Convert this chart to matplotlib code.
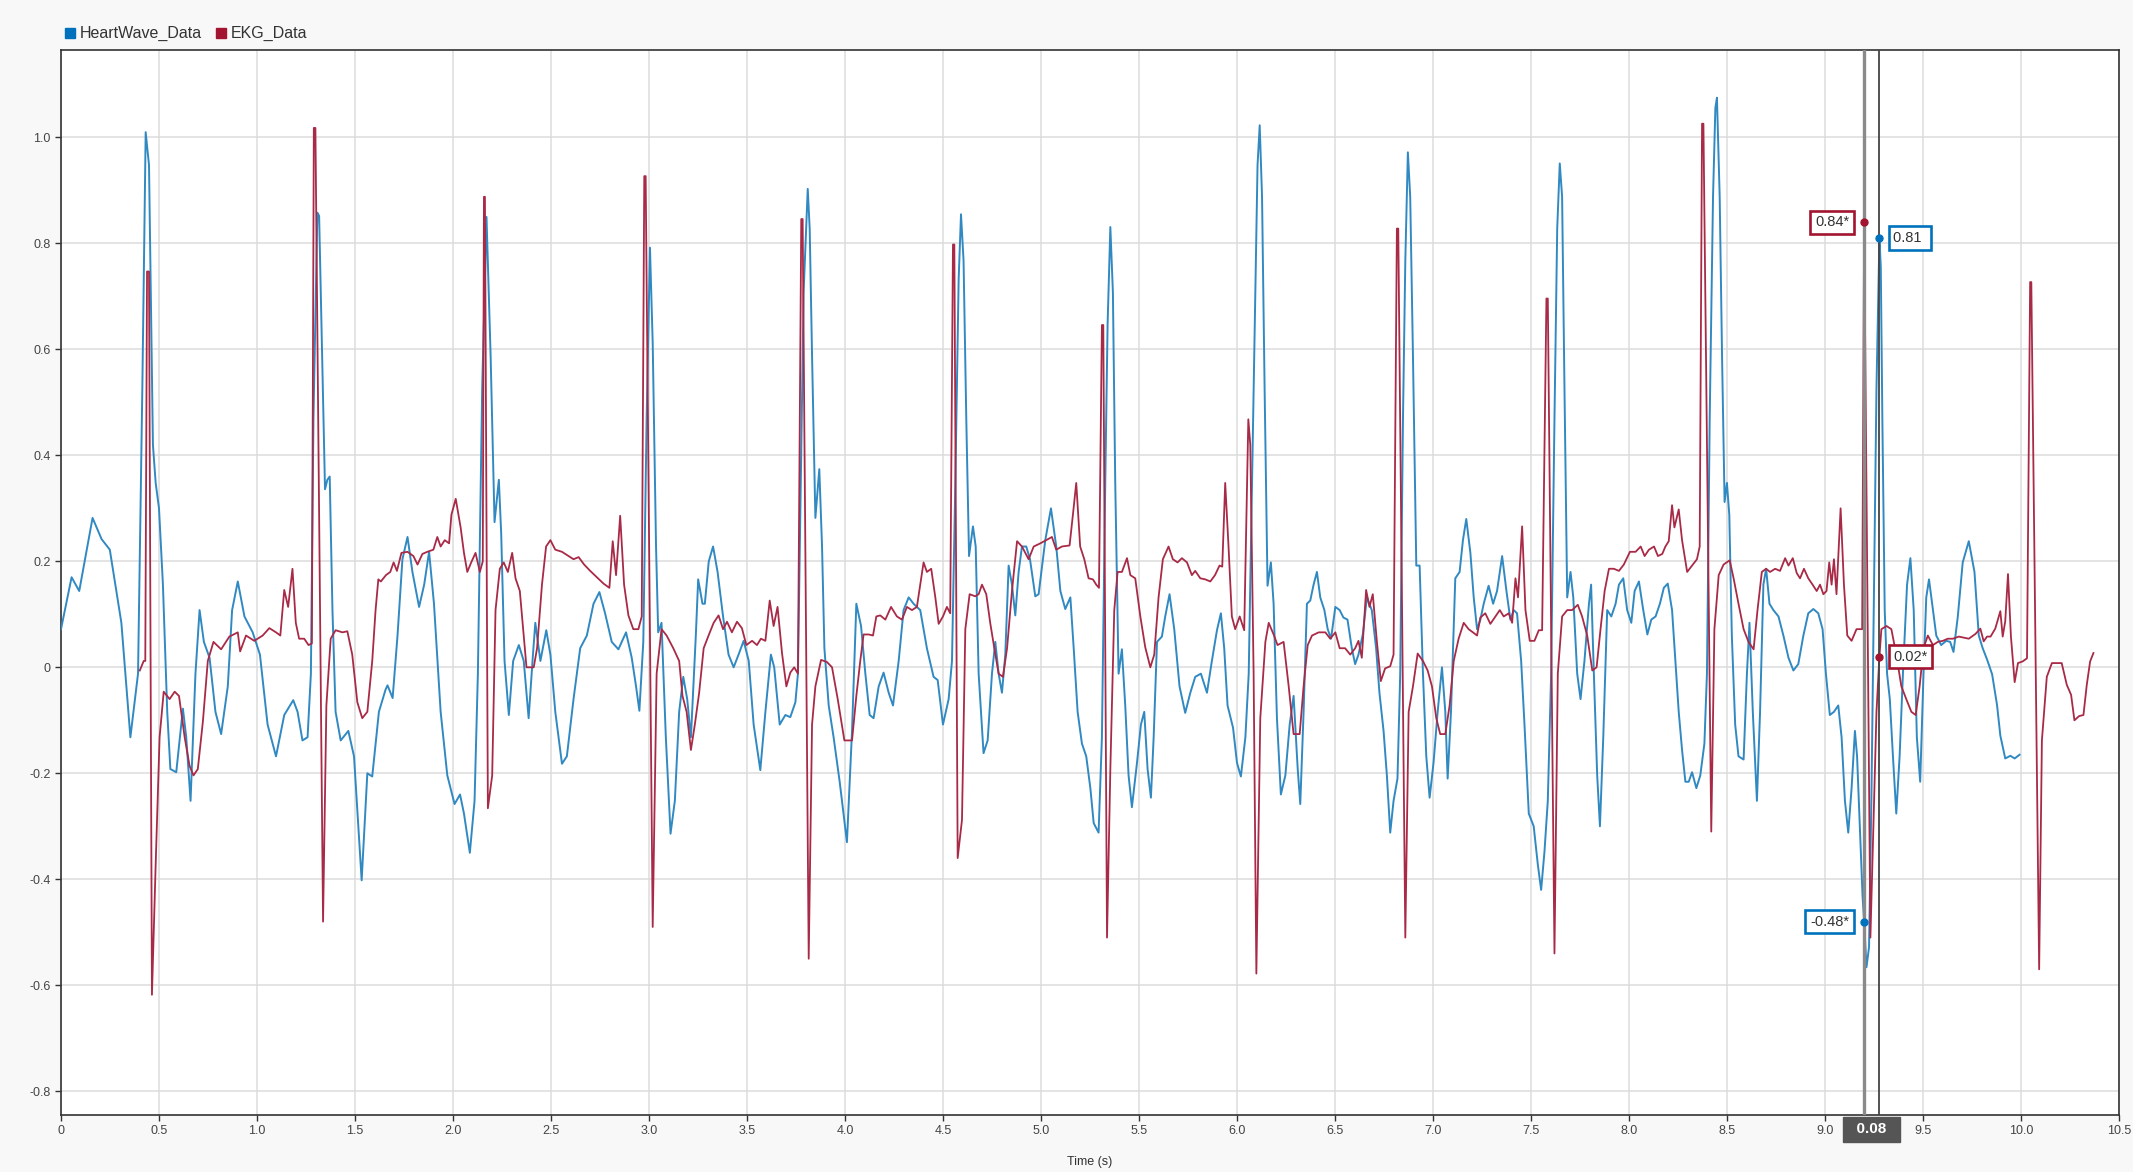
#!/usr/bin/env python3
import numpy as np
import matplotlib
matplotlib.use("Agg")
import matplotlib.pyplot as plt
from matplotlib.lines import Line2D
from matplotlib.transforms import blended_transform_factory

plt.rcParams['font.family'] = ['Liberation Sans', 'DejaVu Sans']

# (time s, value)
heartwave = [
    (0.0,0.072),(0.054,0.17),(0.093,0.144),(0.161,0.282),(0.207,0.242),(0.249,0.222),(0.308,0.084),
    (0.354,-0.132),(0.393,-0.012),(0.415,0.528),(0.432,1.01),(0.449,0.948),(0.469,0.42),(0.483,0.348),
    (0.5,0.30),(0.52,0.156),(0.542,-0.084),(0.558,-0.192),(0.588,-0.198),(0.622,-0.078),(0.639,-0.132),
    (0.661,-0.252),(0.686,-0.012),(0.707,0.108),(0.729,0.048),(0.758,0.018),(0.788,-0.084),(0.817,-0.126),
    (0.851,-0.036),(0.873,0.108),(0.902,0.162),(0.936,0.096),(0.978,0.066),(1.015,0.024),(1.054,-0.108),
    (1.097,-0.168),(1.139,-0.09),(1.185,-0.062),(1.207,-0.084),(1.232,-0.138),(1.258,-0.132),(1.275,-0.012),
    (1.288,0.468),(1.308,0.858),(1.317,0.852),(1.334,0.564),(1.347,0.336),(1.359,0.354),(1.371,0.36),
    (1.385,0.108),(1.401,-0.084),(1.427,-0.138),(1.466,-0.12),(1.495,-0.168),(1.534,-0.402),(1.563,-0.2),
    (1.588,-0.206),(1.622,-0.084),(1.656,-0.042),(1.666,-0.034),(1.692,-0.058),(1.717,0.06),(1.742,0.204),
    (1.768,0.246),(1.793,0.18),(1.827,0.114),(1.853,0.156),(1.878,0.218),(1.903,0.12),(1.937,-0.084),
    (1.971,-0.204),(2.008,-0.258),(2.036,-0.24),(2.056,-0.276),(2.086,-0.35),(2.11,-0.252),(2.127,-0.012),
    (2.149,0.528),(2.171,0.85),(2.192,0.588),(2.212,0.274),(2.234,0.354),(2.246,0.252),(2.263,0.012),
    (2.285,-0.09),(2.307,0.012),(2.336,0.042),(2.361,0.012),(2.386,-0.096),(2.408,0.024),(2.42,0.084),
    (2.446,0.012),(2.476,0.07),(2.497,0.024),(2.522,-0.084),(2.556,-0.182),(2.581,-0.168),(2.615,-0.06),
    (2.649,0.036),(2.683,0.06),(2.717,0.12),(2.747,0.142),(2.776,0.102),(2.81,0.048),(2.844,0.034),
    (2.883,0.066),(2.912,0.018),(2.934,-0.036),(2.951,-0.082),(2.971,0.048),(2.988,0.468),(3.005,0.792),
    (3.019,0.612),(3.036,0.228),(3.047,0.066),(3.064,0.084),(3.086,-0.132),(3.11,-0.314),(3.132,-0.252),
    (3.154,-0.084),(3.175,-0.018),(3.195,-0.06),(3.214,-0.132),(3.239,0.06),(3.251,0.166),(3.273,0.12),
    (3.285,0.12),(3.305,0.2),(3.327,0.228),(3.35,0.18),(3.378,0.096),(3.406,0.024),(3.432,0.0),
    (3.457,0.024),(3.483,0.05),(3.509,0.012),(3.534,-0.108),(3.568,-0.194),(3.594,-0.084),(3.622,0.024),
    (3.639,0.0),(3.667,-0.108),(3.696,-0.09),(3.721,-0.094),(3.747,-0.066),(3.76,-0.012),(3.772,0.288),
    (3.789,0.708),(3.81,0.903),(3.82,0.828),(3.832,0.588),(3.849,0.282),(3.869,0.374),(3.883,0.228),
    (3.895,0.036),(3.917,-0.072),(3.942,-0.132),(3.973,-0.216),(4.01,-0.33),(4.036,-0.12),(4.058,0.12),
    (4.082,0.078),(4.104,-0.012),(4.126,-0.09),(4.146,-0.096),(4.172,-0.036),(4.197,-0.01),(4.223,-0.048),
    (4.245,-0.072),(4.274,0.012),(4.299,0.108),(4.325,0.132),(4.35,0.12),(4.384,0.108),(4.418,0.036),
    (4.452,-0.018),(4.473,-0.024),(4.5,-0.108),(4.529,-0.06),(4.546,0.012),(4.563,0.348),(4.58,0.732),
    (4.592,0.855),(4.605,0.768),(4.619,0.468),(4.633,0.21),(4.653,0.266),(4.667,0.228),(4.682,-0.012),
    (4.707,-0.162),(4.728,-0.138),(4.75,-0.012),(4.767,0.048),(4.784,-0.012),(4.801,-0.048),(4.818,0.024),
    (4.835,0.192),(4.852,0.156),(4.869,0.098),(4.886,0.18),(4.903,0.228),(4.925,0.228),(4.944,0.204),
    (4.971,0.134),(4.988,0.138),(5.022,0.24),(5.051,0.3),(5.078,0.228),(5.099,0.144),(5.124,0.11),
    (5.15,0.132),(5.167,0.036),(5.187,-0.084),(5.209,-0.144),(5.231,-0.168),(5.252,-0.228),(5.269,-0.294),
    (5.294,-0.312),(5.311,-0.132),(5.328,0.348),(5.34,0.648),(5.354,0.831),(5.367,0.708),(5.379,0.348),
    (5.396,-0.012),(5.413,0.034),(5.43,-0.072),(5.447,-0.204),(5.464,-0.264),(5.49,-0.18),(5.51,-0.108),
    (5.527,-0.084),(5.544,-0.192),(5.561,-0.246),(5.575,-0.132),(5.592,0.048),(5.617,0.058),(5.634,0.096),
    (5.656,0.138),(5.68,0.072),(5.707,-0.036),(5.736,-0.086),(5.762,-0.048),(5.787,-0.018),(5.816,-0.012),
    (5.847,-0.048),(5.872,0.012),(5.898,0.07),(5.918,0.102),(5.935,0.036),(5.952,-0.072),(5.98,-0.114),
    (6.0,-0.18),(6.02,-0.206),(6.043,-0.132),(6.06,-0.012),(6.077,0.348),(6.094,0.708),(6.105,0.948),
    (6.116,1.023),(6.128,0.888),(6.141,0.528),(6.156,0.154),(6.173,0.198),(6.187,0.12),(6.204,-0.096),
    (6.224,-0.24),(6.247,-0.204),(6.269,-0.108),(6.289,-0.054),(6.31,-0.192),(6.323,-0.258),(6.34,-0.084),
    (6.357,0.12),(6.374,0.126),(6.391,0.156),(6.408,0.18),(6.425,0.132),(6.446,0.108),(6.463,0.072),
    (6.48,0.054),(6.502,0.114),(6.524,0.108),(6.543,0.094),(6.564,0.09),(6.586,0.036),(6.603,0.006),
    (6.62,0.024),(6.642,0.062),(6.663,0.132),(6.688,0.108),(6.71,0.036),(6.727,-0.048),(6.748,-0.12),
    (6.765,-0.204),(6.782,-0.312),(6.799,-0.252),(6.819,-0.21),(6.833,-0.012),(6.847,0.468),(6.859,0.768),
    (6.872,0.972),(6.884,0.888),(6.898,0.588),(6.915,0.192),(6.932,0.192),(6.949,-0.012),(6.966,-0.168),
    (6.983,-0.246),(7.003,-0.18),(7.024,-0.084),(7.046,0.0),(7.063,-0.084),(7.075,-0.21),(7.092,-0.084),
    (7.114,0.168),(7.136,0.18),(7.153,0.24),(7.17,0.28),(7.191,0.216),(7.208,0.132),(7.225,0.072),
    (7.242,0.09),(7.259,0.12),(7.284,0.154),(7.307,0.12),(7.327,0.144),(7.353,0.21),(7.375,0.144),
    (7.395,0.09),(7.412,0.108),(7.429,0.102),(7.45,0.012),(7.467,-0.108),(7.489,-0.276),(7.514,-0.3),
    (7.535,-0.372),(7.552,-0.42),(7.569,-0.348),(7.586,-0.252),(7.603,-0.012),(7.62,0.468),(7.634,0.828),
    (7.647,0.951),(7.659,0.888),(7.671,0.528),(7.685,0.132),(7.702,0.18),(7.716,0.132),(7.736,-0.012),
    (7.753,-0.06),(7.773,0.012),(7.796,0.12),(7.807,0.156),(7.821,-0.012),(7.838,-0.204),(7.852,-0.3),
    (7.869,-0.132),(7.889,0.108),(7.91,0.096),(7.932,0.12),(7.949,0.156),(7.971,0.168),(7.991,0.108),
    (8.012,0.084),(8.029,0.144),(8.051,0.162),(8.073,0.108),(8.094,0.062),(8.114,0.09),(8.136,0.096),
    (8.158,0.12),(8.178,0.15),(8.198,0.158),(8.22,0.108),(8.237,0.012),(8.254,-0.084),(8.271,-0.156),
    (8.288,-0.216),(8.305,-0.216),(8.322,-0.198),(8.344,-0.228),(8.364,-0.204),(8.385,-0.144),(8.398,-0.012),
    (8.412,0.468),(8.429,0.888),(8.441,1.056),(8.449,1.075),(8.463,0.888),(8.475,0.588),(8.488,0.312),
    (8.5,0.348),(8.512,0.288),(8.525,0.06),(8.542,-0.108),(8.559,-0.168),(8.585,-0.174),(8.602,-0.012),
    (8.615,0.084),(8.632,-0.084),(8.653,-0.252),(8.669,-0.084),(8.686,0.156),(8.7,0.186),(8.717,0.12),
    (8.737,0.108),(8.763,0.096),(8.788,0.06),(8.814,0.018),(8.839,-0.006),(8.864,0.006),(8.89,0.06),
    (8.915,0.102),(8.941,0.11),(8.966,0.102),(8.988,0.072),(9.005,-0.012),(9.025,-0.09),(9.046,-0.084),
    (9.068,-0.072),(9.085,-0.132),(9.102,-0.252),(9.119,-0.312),(9.136,-0.228),(9.153,-0.12),(9.164,-0.168),
    (9.178,-0.30),(9.192,-0.432),(9.2,-0.48),(9.212,-0.566),(9.225,-0.528),(9.237,-0.252),(9.249,0.108),
    (9.263,0.528),(9.278,0.81),(9.285,0.756),(9.293,0.468),(9.305,0.108),(9.317,-0.012),(9.331,-0.06),
    (9.347,-0.168),(9.364,-0.276),(9.381,-0.168),(9.398,-0.012),(9.419,0.156),(9.436,0.206),(9.453,0.108),
    (9.469,-0.132),(9.486,-0.216),(9.503,-0.012),(9.517,0.132),(9.531,0.166),(9.547,0.12),(9.568,0.06),
    (9.593,0.042),(9.619,0.05),(9.639,0.048),(9.656,0.029),(9.678,0.096),(9.703,0.198),(9.734,0.238),
    (9.763,0.18),(9.785,0.06),(9.805,0.036),(9.827,0.015),(9.853,-0.013),(9.878,-0.071),(9.895,-0.129),
    (9.92,-0.172),(9.946,-0.167),(9.968,-0.172),(9.993,-0.165),
]

ekg = [
    (0.402,-0.006),(0.422,0.012),(0.43,0.012),(0.439,0.747),(0.449,0.747),(0.464,-0.618),(0.483,-0.372),
    (0.503,-0.132),(0.524,-0.046),(0.554,-0.06),(0.58,-0.046),(0.602,-0.054),(0.631,-0.132),(0.656,-0.186),
    (0.676,-0.204),(0.698,-0.192),(0.724,-0.102),(0.749,0.012),(0.778,0.048),(0.817,0.034),(0.859,0.058),
    (0.902,0.066),(0.914,0.03),(0.944,0.06),(0.986,0.05),(1.029,0.06),(1.063,0.074),(1.097,0.066),
    (1.119,0.06),(1.139,0.146),(1.159,0.114),(1.181,0.186),(1.198,0.084),(1.215,0.054),(1.241,0.054),
    (1.263,0.042),(1.28,0.045),(1.29,1.018),(1.298,1.018),(1.337,-0.48),(1.354,-0.072),(1.376,0.054),
    (1.401,0.07),(1.436,0.066),(1.461,0.068),(1.486,0.024),(1.512,-0.066),(1.537,-0.096),(1.563,-0.084),
    (1.588,0.012),(1.605,0.108),(1.619,0.166),(1.632,0.162),(1.658,0.174),(1.68,0.18),(1.697,0.198),
    (1.714,0.182),(1.737,0.216),(1.768,0.218),(1.798,0.21),(1.819,0.194),(1.844,0.214),(1.869,0.218),
    (1.9,0.222),(1.92,0.246),(1.937,0.228),(1.958,0.24),(1.98,0.234),(1.992,0.288),(2.014,0.318),
    (2.039,0.264),(2.056,0.216),(2.073,0.18),(2.093,0.198),(2.115,0.216),(2.137,0.18),(2.152,0.2),
    (2.158,0.888),(2.163,0.888),(2.178,-0.266),(2.2,-0.204),(2.217,0.108),(2.239,0.186),(2.259,0.198),
    (2.28,0.18),(2.302,0.216),(2.319,0.168),(2.341,0.144),(2.358,0.072),(2.375,0.0),(2.412,0.0),
    (2.429,0.036),(2.454,0.156),(2.475,0.228),(2.497,0.24),(2.522,0.222),(2.556,0.218),(2.59,0.21),
    (2.615,0.204),(2.641,0.208),(2.669,0.194),(2.7,0.182),(2.734,0.17),(2.768,0.158),(2.798,0.15),
    (2.815,0.238),(2.832,0.174),(2.853,0.286),(2.873,0.156),(2.895,0.098),(2.92,0.072),(2.946,0.072),
    (2.963,0.096),(2.976,0.927),(2.983,0.927),(3.019,-0.49),(3.039,-0.012),(3.064,0.072),(3.09,0.06),
    (3.124,0.036),(3.154,0.012),(3.171,-0.054),(3.192,-0.084),(3.214,-0.156),(3.234,-0.108),(3.256,-0.048),
    (3.279,0.036),(3.304,0.06),(3.33,0.084),(3.355,0.098),(3.378,0.072),(3.398,0.086),(3.423,0.066),
    (3.449,0.086),(3.474,0.074),(3.497,0.042),(3.526,0.05),(3.551,0.042),(3.571,0.054),(3.594,0.05),
    (3.616,0.126),(3.636,0.078),(3.656,0.114),(3.679,0.026),(3.701,-0.036),(3.721,-0.01),(3.741,0.0),
    (3.76,-0.012),(3.777,0.846),(3.784,0.846),(3.815,-0.55),(3.832,-0.108),(3.849,-0.036),(3.878,0.014),
    (3.908,0.01),(3.934,0.0),(3.963,-0.06),(3.997,-0.138),(4.036,-0.138),(4.058,-0.054),(4.078,0.012),
    (4.095,0.062),(4.121,0.062),(4.143,0.06),(4.16,0.096),(4.18,0.098),(4.206,0.09),(4.235,0.114),
    (4.265,0.096),(4.291,0.09),(4.316,0.114),(4.342,0.108),(4.367,0.114),(4.384,0.156),(4.401,0.198),
    (4.418,0.18),(4.44,0.186),(4.461,0.132),(4.478,0.082),(4.5,0.096),(4.52,0.114),(4.537,0.102),
    (4.551,0.798),(4.558,0.798),(4.575,-0.36),(4.597,-0.288),(4.614,0.072),(4.636,0.138),(4.665,0.134),
    (4.682,0.138),(4.699,0.156),(4.721,0.138),(4.741,0.084),(4.762,0.036),(4.784,-0.012),(4.806,-0.018),
    (4.827,0.036),(4.852,0.144),(4.878,0.238),(4.903,0.228),(4.937,0.204),(4.963,0.228),(4.997,0.234),
    (5.027,0.24),(5.056,0.246),(5.078,0.222),(5.107,0.228),(5.146,0.23),(5.163,0.288),(5.18,0.348),
    (5.2,0.228),(5.221,0.204),(5.243,0.168),(5.265,0.166),(5.282,0.156),(5.296,0.15),(5.311,0.646),
    (5.318,0.646),(5.337,-0.51),(5.354,-0.192),(5.374,0.108),(5.391,0.18),(5.413,0.18),(5.439,0.206),
    (5.456,0.174),(5.481,0.168),(5.507,0.096),(5.532,0.038),(5.558,0.0),(5.578,0.024),(5.6,0.132),
    (5.622,0.204),(5.651,0.228),(5.673,0.204),(5.697,0.198),(5.719,0.206),(5.745,0.198),(5.77,0.174),
    (5.787,0.182),(5.813,0.168),(5.838,0.166),(5.864,0.162),(5.888,0.174),(5.911,0.192),(5.925,0.19),
    (5.94,0.348),(5.957,0.228),(5.974,0.096),(5.991,0.072),(6.014,0.096),(6.037,0.07),(6.058,0.468),
    (6.068,0.42),(6.085,-0.012),(6.099,-0.578),(6.119,-0.096),(6.145,0.048),(6.162,0.084),(6.187,0.062),
    (6.207,0.042),(6.238,0.048),(6.264,-0.036),(6.289,-0.126),(6.32,-0.126),(6.34,-0.036),(6.361,0.042),
    (6.383,0.06),(6.417,0.066),(6.451,0.066),(6.476,0.054),(6.502,0.066),(6.524,0.036),(6.552,0.036),
    (6.578,0.024),(6.603,0.036),(6.62,0.05),(6.637,0.018),(6.659,0.146),(6.676,0.114),(6.693,0.138),
    (6.714,0.048),(6.734,-0.026),(6.756,-0.002),(6.782,0.002),(6.799,0.024),(6.816,0.828),(6.823,0.828),
    (6.859,-0.51),(6.876,-0.084),(6.898,-0.036),(6.922,0.026),(6.949,0.012),(6.973,-0.006),(6.995,-0.036),
    (7.017,-0.096),(7.037,-0.126),(7.063,-0.126),(7.085,-0.072),(7.106,0.012),(7.131,0.054),(7.157,0.084),
    (7.182,0.072),(7.204,0.066),(7.225,0.06),(7.242,0.094),(7.267,0.102),(7.293,0.082),(7.319,0.096),
    (7.341,0.108),(7.361,0.096),(7.387,0.102),(7.404,0.084),(7.421,0.168),(7.434,0.132),(7.455,0.266),
    (7.472,0.108),(7.494,0.05),(7.518,0.05),(7.54,0.07),(7.557,0.07),(7.579,0.696),(7.586,0.696),
    (7.62,-0.54),(7.637,-0.012),(7.659,0.096),(7.685,0.108),(7.71,0.108),(7.739,0.118),(7.761,0.096),
    (7.787,0.06),(7.813,-0.006),(7.835,0.0),(7.855,0.072),(7.876,0.144),(7.898,0.186),(7.923,0.186),
    (7.949,0.182),(7.974,0.194),(8.005,0.218),(8.034,0.218),(8.06,0.228),(8.08,0.21),(8.102,0.222),
    (8.128,0.228),(8.148,0.21),(8.17,0.214),(8.186,0.228),(8.203,0.238),(8.22,0.306),(8.232,0.264),
    (8.254,0.298),(8.271,0.24),(8.297,0.18),(8.322,0.192),(8.347,0.204),(8.361,0.228),(8.373,1.026),
    (8.38,1.026),(8.42,-0.31),(8.436,0.072),(8.458,0.174),(8.483,0.194),(8.514,0.202),(8.534,0.168),
    (8.559,0.12),(8.585,0.072),(8.61,0.048),(8.636,0.034),(8.656,0.108),(8.678,0.18),(8.7,0.186),
    (8.72,0.18),(8.746,0.186),(8.771,0.182),(8.797,0.206),(8.814,0.192),(8.836,0.206),(8.856,0.178),
    (8.873,0.168),(8.893,0.186),(8.915,0.168),(8.937,0.156),(8.958,0.144),(8.975,0.156),(8.992,0.138),
    (9.008,0.144),(9.022,0.198),(9.034,0.156),(9.046,0.204),(9.059,0.138),(9.08,0.3),(9.097,0.156),
    (9.114,0.06),(9.136,0.05),(9.161,0.072),(9.19,0.072),(9.2,0.84),(9.232,-0.51),(9.263,-0.084),
    (9.278,0.02),(9.288,0.072),(9.314,0.078),(9.339,0.072),(9.364,0.024),(9.39,-0.036),(9.415,-0.06),
    (9.441,-0.084),(9.463,-0.09),(9.483,-0.036),(9.503,0.036),(9.525,0.06),(9.551,0.042),(9.576,0.048),
    (9.602,0.05),(9.627,0.054),(9.653,0.054),(9.683,0.058),(9.734,0.054),(9.768,0.063),(9.793,0.073),
    (9.81,0.049),(9.827,0.058),(9.845,0.058),(9.869,0.073),(9.895,0.106),(9.907,0.058),(9.92,0.087),
    (9.934,0.176),(9.949,0.058),(9.968,-0.028),(9.985,0.008),(10.008,0.011),(10.031,0.017),(10.047,0.727),
    (10.053,0.727),(10.093,-0.57),(10.107,-0.138),(10.132,-0.018),(10.158,0.008),(10.183,0.008),
    (10.208,0.008),(10.234,-0.033),(10.256,-0.052),(10.273,-0.1),(10.297,-0.092),(10.319,-0.09),
    (10.336,-0.033),(10.353,0.011),(10.37,0.027),
]

hw_t, hw_v = np.array(heartwave).T
ekg_t, ekg_v = np.array(ekg).T

names = ['HeartWave_Data', 'EKG_Data']
line_col = ['#3189c2', '#a82a47']
key_col = ['#0072bd', '#a2142f']

cursor_t = [9.2, 9.278]
cursor_delta = '0.08'
# cursor readouts: (cursor index, series index, label)
readouts = [(0, 1, '0.84*'), (1, 0, '0.81 '), (1, 1, '0.02*'), (0, 0, '-0.48*')]

xticks = np.arange(0, 10.51, 0.5)
xlabels = ['0'] + ['%.1f' % v for v in xticks[1:]]
yticks = np.arange(-0.8, 1.01, 0.2)
ylabels = ['0' if abs(v) < 1e-9 else '%.1f' % v for v in yticks]

fig = plt.figure(figsize=(21.33, 11.72), dpi=100, facecolor='#f8f8f8')
ax = fig.add_axes([0.0286, 0.0486, 0.9648, 0.9087])
ax.set_facecolor('white')

ax.plot(hw_t, hw_v, color=line_col[0], lw=1.4, zorder=3, solid_joinstyle='round')
ax.plot(ekg_t, ekg_v, color=line_col[1], lw=1.3, zorder=3)

ax.set_xlim(0, 10.5)
ax.set_ylim(-0.845, 1.165)
ax.set_xticks(xticks)
ax.set_xticklabels(xlabels)
ax.set_yticks(yticks)
ax.set_yticklabels(ylabels)
ax.grid(True, color='#dcdcdc', lw=1.1, zorder=0)
ax.tick_params(labelsize=9, colors='#333333', length=4, width=1, labelcolor='#444444')
for s in ax.spines.values():
    s.set_color('#333333')
    s.set_linewidth(1.2)
ax.set_xlabel('Time (s)', fontsize=9, color='#333333', labelpad=13)

# cursors
ax.axvline(cursor_t[0], color='#8a8a8a', lw=2.4, zorder=4)
ax.axvline(cursor_t[1], color='#444444', lw=1.3, zorder=4)

series = [(hw_t, hw_v), (ekg_t, ekg_v)]
for ci, si, lab in readouts:
    t = cursor_t[ci]
    v = np.interp(t, *series[si])
    ax.plot([t], [v], 'o', ms=5, color=key_col[si], zorder=6)
    off = -15 if ci == 0 else 14
    ax.annotate(lab, (t, v), xytext=(off, 0), textcoords='offset pixels',
                ha='right' if ci == 0 else 'left', va='center', fontsize=10.5, color='#333333',
                bbox=dict(boxstyle='square,pad=0.32', fc='white', ec=key_col[si], lw=1.9), zorder=7)

trans = blended_transform_factory(ax.transData, ax.transAxes)
ax.text(sum(cursor_t) / 2, -0.007, '  ' + cursor_delta + '  ', transform=trans, ha='center', va='top',
        fontsize=11, color='white', fontweight='bold',
        bbox=dict(boxstyle='square,pad=0.35', fc='#555555', ec='#555555'), zorder=8, clip_on=False)

handles = [Line2D([], [], ls='none', marker='s', ms=7, color=c) for c in key_col]
fig.legend(handles, names, loc='upper left', bbox_to_anchor=(0.024, 0.99), ncol=2, frameon=False,
           fontsize=11.5, handlelength=0.6, handletextpad=0.3, columnspacing=0.9, labelcolor='#333333')

fig.savefig('out.png', dpi=100, facecolor=fig.get_facecolor())
